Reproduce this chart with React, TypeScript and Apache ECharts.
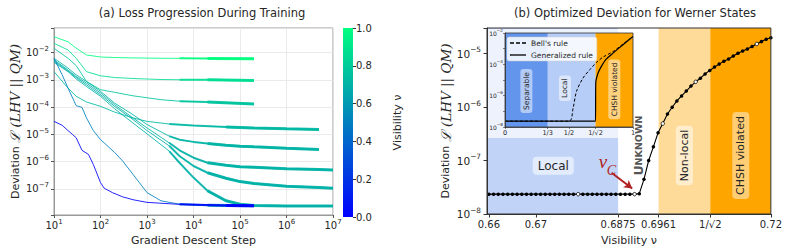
import React, { useEffect, useRef } from 'react';
import * as echarts from 'echarts';

const FONT = 'DejaVu Sans';
const INK = '#262626';
const MINUS = '\u2212';

// ---------------- Panel (a): loss progression ----------------
const lineVisibility = [1.0, 0.87, 0.77, 0.72, 0.705, 0.697, 0.694, 0.69, 0.5, 0.0];

const stepsShort = [10, 20, 30, 50, 100, 200, 500, 2000, 5000, 20000, 200000];
const lossV100 = [3.8e-2, 2.5e-2, 1.45e-2, 8.2e-3, 6.9e-3, 6.6e-3, 6.4e-3, 6.2e-3, 6.15e-3, 6.1e-3, 6.0e-3];
const lossV087 = [2.2e-2, 1.25e-2, 6.2e-3, 2.0e-3, 1.41e-3, 1.22e-3, 1.12e-3, 1.03e-3, 1.01e-3, 1.0e-3, 9.5e-4];
const lossV077 = [1.44e-2, 6.2e-3, 3.35e-3, 8.7e-4, 4.35e-4, 3.5e-4, 2.6e-4, 1.87e-4, 1.65e-4, 1.54e-4, 1.3e-4];

const stepsV072 = [10, 20, 30, 50, 100, 200, 500, 1000, 3000, 10000, 50000, 200000, 1000000, 5000000];
const lossV072 = [2.0e-3, 5.0e-4, 2.5e-4, 1.54e-4, 1.07e-4, 6.6e-5, 4.0e-5, 3.0e-5, 2.4e-5, 2.1e-5, 1.88e-5, 1.73e-5, 1.6e-5, 1.5e-5];

const stepsV0705 = [10, 20, 30, 50, 100, 200, 500, 1000, 3000, 5000, 10000, 20000, 50000, 100000, 200000, 1000000, 5000000];
const lossV0705 = [6.2e-3, 2.7e-3, 1.53e-3, 8.7e-4, 3.8e-4, 1.41e-4, 5.3e-5, 2.3e-5, 8.6e-6, 6.4e-6, 5.3e-6, 4.6e-6, 4.0e-6, 3.7e-6, 3.5e-6, 3.1e-6, 2.8e-6];

const stepsLong = [10, 20, 30, 50, 100, 200, 500, 1000, 3000, 5000, 10000, 20000, 50000, 100000, 200000, 1000000, 5000000, 10000000];
const lossV0697 = [5.4e-3, 2.3e-3, 1.33e-3, 7.6e-4, 3.3e-4, 1.23e-4, 4.0e-5, 1.73e-5, 4.9e-6, 2.6e-6, 1.39e-6, 9.1e-7, 7.3e-7, 6.5e-7, 6.2e-7, 5.5e-7, 5.1e-7, 4.9e-7];
const lossV0694 = [5.0e-3, 2.1e-3, 1.22e-3, 6.6e-4, 2.85e-4, 1.07e-4, 3.5e-5, 1.38e-5, 3.8e-6, 1.6e-6, 6.9e-7, 3.9e-7, 2.45e-7, 1.85e-7, 1.57e-7, 1.25e-7, 1.12e-7, 1.06e-7];
const lossV069 = [4.4e-3, 2.0e-3, 1.09e-3, 5.7e-4, 2.5e-4, 8.8e-5, 2.6e-5, 1.05e-5, 2.44e-6, 9.1e-7, 2.6e-7, 8.5e-8, 3.65e-8, 2.75e-8, 2.47e-8, 2.33e-8, 2.33e-8, 2.33e-8];

const stepsV050 = [10, 15, 20, 30, 40, 50, 70, 100, 200, 300, 500, 1000, 2000, 5000, 20000, 200000];
const lossV050 = [6.2e-3, 1.53e-3, 5.0e-4, 1.13e-4, 9.8e-5, 4.0e-5, 1.38e-5, 6.4e-6, 2.2e-6, 1.05e-6, 3.4e-7, 7.3e-8, 3.65e-8, 2.75e-8, 2.5e-8, 2.4e-8];

const stepsV000 = [10, 15, 20, 25, 30, 40, 55, 70, 100, 120, 180, 300, 500, 1000, 5000, 50000, 200000];
const lossV000 = [3.0e-5, 2.15e-5, 1.38e-5, 9.9e-6, 7.5e-6, 2.6e-6, 1.84e-6, 7.9e-7, 1.7e-7, 1.06e-7, 7.3e-8, 5.1e-8, 4.0e-8, 3.2e-8, 2.7e-8, 2.47e-8, 2.4e-8];

const midFromStep = 3000;
const thickFromStep = 20000;

// ---------------- Panel (b): Werner states ----------------
const werV = [
  0.660, 0.661, 0.662, 0.663, 0.664, 0.665, 0.666, 0.667, 0.668, 0.669,
  0.670, 0.671, 0.672, 0.673, 0.674, 0.675, 0.676, 0.677, 0.678, 0.679,
  0.680, 0.681, 0.682, 0.683, 0.684, 0.685, 0.686, 0.687, 0.688, 0.689,
  0.690, 0.691, 0.692, 0.693, 0.694, 0.695, 0.696, 0.697, 0.698, 0.699,
  0.700, 0.701, 0.702, 0.703, 0.704, 0.705, 0.706, 0.707, 0.708, 0.709,
  0.710, 0.711, 0.712, 0.713, 0.714, 0.715, 0.716, 0.717, 0.718, 0.719, 0.720,
];
const werLoss = [
  2.35e-8, 2.35e-8, 2.35e-8, 2.35e-8, 2.35e-8, 2.35e-8, 2.35e-8, 2.35e-8, 2.35e-8, 2.35e-8,
  2.35e-8, 2.35e-8, 2.35e-8, 2.35e-8, 2.35e-8, 2.35e-8, 2.35e-8, 2.35e-8, 2.35e-8, 2.35e-8,
  2.35e-8, 2.35e-8, 2.35e-8, 2.35e-8, 2.35e-8, 2.35e-8, 2.35e-8, 2.35e-8, 2.35e-8, 2.35e-8,
  2.35e-8, 2.35e-8, 2.4e-8, 4.45e-8, 1.0e-7, 1.8e-7, 3.3e-7, 4.9e-7, 7.4e-7, 9.9e-7,
  1.3e-6, 1.61e-6, 1.99e-6, 2.46e-6, 2.96e-6, 3.45e-6, 4.15e-6, 4.83e-6, 5.58e-6, 6.34e-6,
  7.2e-6, 7.9e-6, 9.0e-6, 1.01e-5, 1.11e-5, 1.22e-5, 1.35e-5, 1.51e-5, 1.67e-5, 1.84e-5, 1.98e-5,
];
const hollowV = [0.679, 0.691, 0.697, 0.704, 0.717];

const bTickValues = [0.66, 0.67, 0.6875, 0.6961, 0.70710678, 0.72];
const bTickLabels = ['0.66', '0.67', '0.6875', '0.6961', '1/\u221A2', '0.72'];
const bXMin = 0.6596;
const bXMax = 0.72;
const bYMin = 1e-8;
const bYMax = 3e-5;

const regionStart = [0.6596, 0.6875, 0.6961, 0.70710678];
const regionEnd = [0.6875, 0.6961, 0.70710678, 0.72];
const regionColor = ['rgb(193,212,248)', 'rgba(255,255,255,0)', 'rgb(255,219,153)', 'rgb(255,165,0)'];

const regionLabels = ['Local', 'UNKNOWN', 'Non-local', 'CHSH violated', 'v', 'C'];
const regionLabelV = [0.6737, 0.6918, 0.7016, 0.7136, 0.6843, 0.6861];
const regionLabelY = [8e-8, 1.9e-7, 1.24e-7, 1.24e-7, 9.6e-8, 6.6e-8];

const arrowFrom = [0.6861, 5.9e-8];
const arrowTo = [0.6905, 3.0e-8];

// Inset
const insetTickValues = [0, 1 / 3, 0.5, 0.70710678, 1];
const insetTickLabels = ['0', '1/3', '1/2', '1/\u221A2', '1'];
const bellV = [0, 0.5, 0.532, 0.559, 0.61, 0.663, 0.714, 0.766, 0.844, 0.922, 1.0];
const bellLoss = [2.35e-8, 2.35e-8, 1.6e-7, 1.9e-6, 1.35e-5, 4.6e-5, 1.3e-4, 2.9e-4, 6.5e-4, 2.0e-3, 6.0e-3];
const genV = [0, 0.70710678, 0.708, 0.709, 0.727, 0.753, 0.792, 0.844, 0.922, 1.0];
const genLoss = [2.35e-8, 2.35e-8, 5.5e-7, 6.5e-6, 2.8e-5, 7.4e-5, 2.2e-4, 5.2e-4, 1.8e-3, 6.0e-3];
const insetStart = [0, 1 / 3, 0.70710678];
const insetEnd = [1 / 3, 0.70710678, 1];
const insetColor = ['rgb(100,149,237)', 'rgba(100,149,237,0.4)', 'rgb(255,165,0)'];
const insetLabels = ['Separable', 'Local', 'CHSH violated'];
const insetLabelV = [0.167, 0.468, 0.854];
const insetLabelY = [2e-6, 3e-6, 2.5e-6];

// ---------------- helpers ----------------
const winter = (v: number, a = 1) =>
  `rgba(0,${Math.round(255 * v)},${Math.round(255 * (1 - v / 2))},${a})`;

function powLabel(value: number, every = 1) {
  const e = Math.log10(value);
  const r = Math.round(e);
  if (Math.abs(e - r) > 1e-6 || r % every !== 0) return '';
  return `{b|10}{s|${r < 0 ? MINUS + Math.abs(r) : r}}`;
}

const powRich = (size: number) => ({
  b: { fontSize: size, fontFamily: FONT, color: INK, lineHeight: size + 4 },
  s: { fontSize: size * 0.7, fontFamily: FONT, color: INK, verticalAlign: 'top' },
});

const nameRich = {
  a: { fontSize: 11, fontFamily: FONT, color: INK },
  c: { fontSize: 13.5, fontFamily: 'DejaVu Serif', fontStyle: 'italic', color: INK },
};

function buildOption() {
  const curves = [
    { steps: stepsShort, loss: lossV100 },
    { steps: stepsShort, loss: lossV087 },
    { steps: stepsShort, loss: lossV077 },
    { steps: stepsV072, loss: lossV072 },
    { steps: stepsV0705, loss: lossV0705 },
    { steps: stepsLong, loss: lossV0697 },
    { steps: stepsLong, loss: lossV0694 },
    { steps: stepsLong, loss: lossV069 },
    { steps: stepsV050, loss: lossV050 },
    { steps: stepsV000, loss: lossV000 },
  ];

  const series: any[] = [];
  curves.forEach((c, i) => {
    const v = lineVisibility[i];
    const pts = c.steps.map((s, k) => [s, c.loss[k]]);
    series.push({
      type: 'line', name: 'a' + i, xAxisIndex: 0, yAxisIndex: 0, data: pts,
      symbol: 'none', silent: true, z: 2,
      lineStyle: { width: 1, color: winter(v, 0.85) },
    });
    series.push({
      type: 'line', name: 'am' + i, xAxisIndex: 0, yAxisIndex: 0,
      data: pts.filter((p) => p[0] >= midFromStep),
      symbol: 'none', silent: true, z: 3,
      lineStyle: { width: 2, color: winter(v, 0.85) },
    });
    series.push({
      type: 'line', name: 'at' + i, xAxisIndex: 0, yAxisIndex: 0,
      data: pts.filter((p) => p[0] >= thickFromStep),
      symbol: 'none', silent: true, z: 3,
      lineStyle: { width: 3, color: winter(v, 0.9) },
    });
  });

  // colour bar
  series.push({
    type: 'bar', name: 'cbar', xAxisIndex: 1, yAxisIndex: 1, data: [1], barWidth: '100%', silent: true,
    itemStyle: {
      color: new echarts.graphic.LinearGradient(0, 0, 0, 1, [
        { offset: 0, color: winter(1) },
        { offset: 1, color: winter(0) },
      ]),
    },
  });

  // panel (b) regions
  series.push({
    type: 'custom', name: 'regions', xAxisIndex: 2, yAxisIndex: 2, z: 1, silent: true,
    encode: { x: [0, 1], y: [2, 3] },
    data: regionStart.map((s, i) => [s, regionEnd[i], bYMin, bYMax]),
    renderItem: (params: any, api: any) => {
      const p0 = api.coord([api.value(0), api.value(3)]);
      const p1 = api.coord([api.value(1), api.value(2)]);
      return {
        type: 'rect',
        shape: { x: p0[0], y: p0[1], width: p1[0] - p0[0], height: p1[1] - p0[1] },
        style: { fill: regionColor[params.dataIndex] },
      };
    },
  });

  const serifRed = { fontStyle: 'italic', fontFamily: 'Liberation Serif', fill: '#b22222' };
  const labelStyles: any[] = [
    { rotation: 0, style: { fontSize: 12, fill: INK, backgroundColor: 'rgba(255,255,255,0.55)', padding: [3, 5], borderRadius: 4 } },
    { rotation: Math.PI / 2, style: { text: '{u|U}{n|NKNOWN}', rich: { u: { fontSize: 12.5, fontWeight: 'bold', fill: '#555', fontFamily: FONT }, n: { fontSize: 9.5, fontWeight: 'bold', fill: '#555', fontFamily: FONT } } } },
    { rotation: Math.PI / 2, style: { fontSize: 11, fill: INK, backgroundColor: 'rgba(255,255,255,0.5)', padding: [3, 4], borderRadius: 4 } },
    { rotation: Math.PI / 2, style: { fontSize: 11, fill: INK, backgroundColor: 'rgba(255,255,255,0.45)', padding: [3, 4], borderRadius: 4 } },
    { rotation: 0, style: { fontSize: 19, ...serifRed } },
    { rotation: 0, style: { fontSize: 14, ...serifRed } },
  ];
  series.push({
    type: 'custom', name: 'regionLabels', xAxisIndex: 2, yAxisIndex: 2, z: 3, silent: true,
    encode: { x: 0, y: 1 },
    data: regionLabelV.map((v, i) => [v, regionLabelY[i]]),
    renderItem: (params: any, api: any) => {
      const p = api.coord([api.value(0), api.value(1)]);
      const spec = labelStyles[params.dataIndex];
      return {
        type: 'text', x: p[0], y: p[1], rotation: spec.rotation,
        style: {
          text: regionLabels[params.dataIndex], fontFamily: FONT, align: 'center', verticalAlign: 'middle',
          ...spec.style,
        },
      };
    },
  });

  series.push({
    type: 'line', name: 'werner', xAxisIndex: 2, yAxisIndex: 2, z: 4, silent: true,
    data: werV.map((v, i) => {
      const hollow = hollowV.some((h) => Math.abs(h - v) < 1e-6);
      return hollow
        ? { value: [v, werLoss[i]], itemStyle: { color: '#fff', borderColor: '#000', borderWidth: 0.8 } }
        : { value: [v, werLoss[i]] };
    }),
    symbol: 'circle', symbolSize: 3.5, showSymbol: true,
    itemStyle: { color: '#000' },
    lineStyle: { color: '#000', width: 1.1 },
    markLine: {
      silent: true, symbol: ['none', 'arrow'], symbolSize: [7, 8],
      lineStyle: { color: '#b22222', width: 2, type: 'solid' },
      label: { show: false },
      data: [[{ coord: arrowFrom }, { coord: arrowTo }]],
    },
  });

  // inset
  series.push({
    type: 'custom', name: 'insetRegions', xAxisIndex: 3, yAxisIndex: 3, z: 5, silent: true,
    encode: { x: [0, 1], y: [2, 3] },
    data: insetStart.map((s, i) => [s, insetEnd[i], 1e-8, 1e-2]),
    renderItem: (params: any, api: any) => {
      const p0 = api.coord([api.value(0), api.value(3)]);
      const p1 = api.coord([api.value(1), api.value(2)]);
      return {
        type: 'rect',
        shape: { x: p0[0], y: p0[1], width: p1[0] - p0[0], height: p1[1] - p0[1] },
        style: { fill: insetColor[params.dataIndex] },
      };
    },
  });
  series.push({
    type: 'custom', name: 'insetLabels', xAxisIndex: 3, yAxisIndex: 3, z: 6, silent: true,
    encode: { x: 0, y: 1 },
    data: insetLabelV.map((v, i) => [v, insetLabelY[i]]),
    renderItem: (params: any, api: any) => {
      const p = api.coord([api.value(0), api.value(1)]);
      return {
        type: 'text', x: p[0], y: p[1], rotation: Math.PI / 2,
        style: {
          text: insetLabels[params.dataIndex], fontFamily: FONT, fontSize: 7.5, fill: INK,
          align: 'center', verticalAlign: 'middle',
          backgroundColor: 'rgba(255,255,255,0.5)', padding: [2, 3], borderRadius: 3,
        },
      };
    },
  });
  series.push({
    type: 'line', name: "Bell's rule", xAxisIndex: 3, yAxisIndex: 3, z: 6, silent: true,
    data: bellV.map((v, i) => [v, bellLoss[i]]), symbol: 'none', smooth: 0.3,
    itemStyle: { color: '#000' },
    lineStyle: { color: '#000', width: 1, type: [3, 2] },
  });
  series.push({
    type: 'line', name: 'Generalized rule', xAxisIndex: 3, yAxisIndex: 3, z: 6, silent: true,
    data: genV.map((v, i) => [v, genLoss[i]]), symbol: 'none', smooth: 0.2,
    itemStyle: { color: '#000' },
    lineStyle: { color: '#000', width: 1.2 },
  });

  const labelOf = (vals: number[], labs: string[]) => (val: number) => {
    const i = vals.findIndex((t) => Math.abs(t - val) < 1e-6);
    return i >= 0 ? labs[i] : '';
  };

  return {
    animation: false,
    backgroundColor: '#fff',
    textStyle: { fontFamily: FONT },
    title: [
      { text: '(a) Loss Progression During Training', left: 197, top: 2, textAlign: 'center',
        textStyle: { fontSize: 11.5, fontWeight: 'normal', color: INK, fontFamily: FONT } },
      { text: '(b) Optimized Deviation for Werner States', left: 630, top: 2, textAlign: 'center',
        textStyle: { fontSize: 11.5, fontWeight: 'normal', color: INK, fontFamily: FONT } },
    ],
    legend: {
      data: [
        { name: "Bell's rule", icon: 'path://M0 0h4v1.3H0z M6 0h4v1.3H6z M12 0h4v1.3h-4z' },
        { name: 'Generalized rule', icon: 'path://M0 0h16v1.3H0z' },
      ],
      orient: 'vertical', left: 507, top: 37,
      itemWidth: 16, itemHeight: 1.4, itemGap: 4, z: 9,
      itemStyle: { color: '#000' },
      textStyle: { fontSize: 7.5, color: INK, fontFamily: FONT },
      backgroundColor: 'rgba(255,255,255,0.85)', borderColor: '#ccc', borderWidth: 0.5,
      borderRadius: 2, padding: [2, 4, 2, 3],
    },
    graphic: [
      { type: 'rect', z: 2, silent: true, shape: { x: 488, y: 29, width: 152, height: 109 },
        style: { fill: 'rgba(255,255,255,0.7)' } },
    ],
    grid: [
      { left: 54, top: 28, width: 279, height: 189, show: true, borderColor: '#999', borderWidth: 1 },
      { left: 343, top: 28, width: 10, height: 189 },
      { left: 487, top: 28, width: 285, height: 189, show: true, borderColor: '#333', borderWidth: 1, z: 8 },
      { left: 505, top: 33, width: 128, height: 94, show: true, borderColor: '#333', borderWidth: 0.8, z: 8 },
    ],
    xAxis: [
      {
        gridIndex: 0, type: 'log', min: 10, max: 1e7,
        name: 'Gradient Descent Step', nameLocation: 'middle', nameGap: 20,
        nameTextStyle: { fontSize: 11, color: INK, fontFamily: FONT },
        axisLine: { lineStyle: { color: '#999' } },
        axisTick: { show: true, length: 3, lineStyle: { color: '#555' } },
        axisLabel: { formatter: (v: number) => powLabel(v), rich: powRich(10), margin: 3 },
        splitLine: { show: true, lineStyle: { color: '#e4e4e4', width: 0.8 } },
      },
      { gridIndex: 1, type: 'category', data: ['c'], show: false },
      {
        gridIndex: 2, type: 'value', min: bXMin, max: bXMax, z: 8,
        name: 'Visibility \u03BD', nameLocation: 'middle', nameGap: 21,
        nameTextStyle: { fontSize: 11, color: INK, fontFamily: FONT },
        axisLine: { lineStyle: { color: '#333' } },
        axisTick: { show: true, length: 3.5, customValues: bTickValues, lineStyle: { color: '#333' } },
        axisLabel: { customValues: bTickValues, formatter: labelOf(bTickValues, bTickLabels), fontSize: 10, color: INK, margin: 5, fontFamily: FONT },
        splitLine: { show: false },
      },
      {
        gridIndex: 3, type: 'value', min: 0, max: 1, z: 8,
        axisLine: { lineStyle: { color: '#333', width: 0.8 } },
        axisTick: { show: true, length: 2, customValues: insetTickValues, lineStyle: { color: '#333', width: 0.6 } },
        axisLabel: { customValues: insetTickValues, formatter: labelOf(insetTickValues, insetTickLabels), fontSize: 6.5, color: INK, margin: 2.5, fontFamily: FONT },
        splitLine: { show: false },
      },
    ],
    yAxis: [
      {
        gridIndex: 0, type: 'log', min: 1.1e-8, max: 0.08,
        name: '{a|Deviation }{c|\u2112 (LHV || QM)}', nameLocation: 'middle', nameGap: 31,
        nameTextStyle: { rich: nameRich },
        axisLine: { lineStyle: { color: '#999' } },
        axisTick: { show: true, length: 3, lineStyle: { color: '#555' } },
        axisLabel: { formatter: (v: number) => powLabel(v), rich: powRich(10), margin: 5 },
        splitLine: { show: true, lineStyle: { color: '#e4e4e4', width: 0.8 } },
      },
      {
        gridIndex: 1, type: 'value', min: 0, max: 1, interval: 0.2, position: 'right',
        name: 'Visibility \u03BD', nameLocation: 'middle', nameGap: 39, nameRotate: 90,
        nameTextStyle: { fontSize: 11, color: INK, fontFamily: FONT },
        axisLine: { show: false },
        axisTick: { show: true, length: 3, lineStyle: { color: '#333' } },
        axisLabel: { formatter: (v: number) => v.toFixed(1), fontSize: 10, color: INK, margin: 3, fontFamily: FONT },
        splitLine: { show: false },
      },
      {
        gridIndex: 2, type: 'log', min: bYMin, max: bYMax, z: 8,
        name: '{a|Deviation }{c|\u2112 (LHV || QM)}', nameLocation: 'middle', nameGap: 33,
        nameTextStyle: { rich: nameRich },
        axisLine: { lineStyle: { color: '#333' } },
        axisTick: { show: true, length: 3.5, lineStyle: { color: '#333' } },
        axisLabel: { formatter: (v: number) => powLabel(v), rich: powRich(10.5), margin: 6 },
        splitLine: { show: false },
      },
      {
        gridIndex: 3, type: 'log', min: 1e-8, max: 1e-2, z: 8,
        axisLine: { lineStyle: { color: '#333', width: 0.8 } },
        axisTick: { show: true, length: 2, lineStyle: { color: '#333', width: 0.6 } },
        axisLabel: { formatter: (v: number) => powLabel(v, 2), rich: powRich(6), margin: 2 },
        splitLine: { show: false },
      },
    ],
    series,
  };
}

export default function App() {
  const ref = useRef<HTMLDivElement>(null);
  useEffect(() => {
    const chart = echarts.init(ref.current!, null, { renderer: 'svg' });
    chart.setOption(buildOption() as any);
    return () => chart.dispose();
  }, []);
  return (
    <div
      ref={ref}
      style={{ position: 'fixed', left: 0, top: 0, width: 785, height: 251, background: '#fff' }}
    />
  );
}
